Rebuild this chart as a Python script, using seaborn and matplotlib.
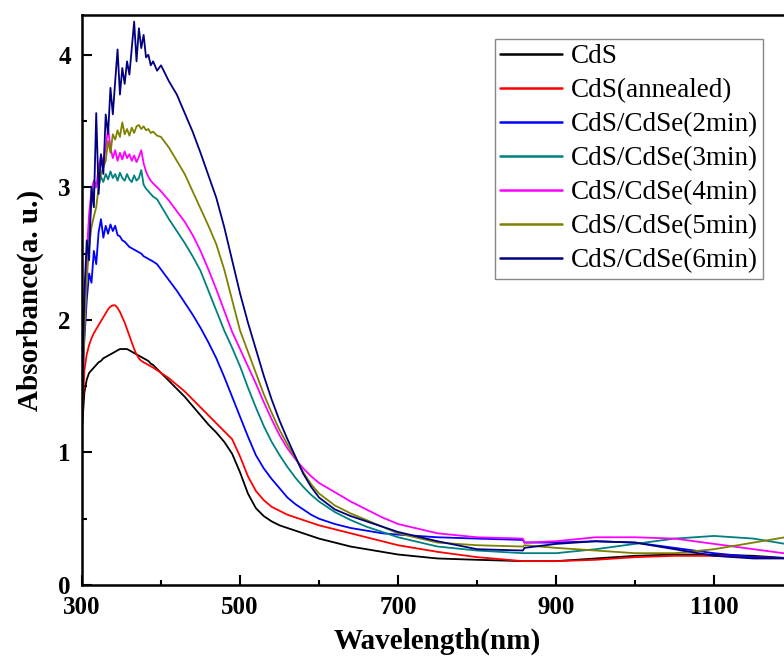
import matplotlib
matplotlib.use("Agg")
import matplotlib.pyplot as plt
from matplotlib.ticker import MultipleLocator
import seaborn as sns
import pandas as pd

# wavelength grid (nm), dense in the noisy UV region
wavelength = [300, 303, 306, 309, 312, 315, 318, 321, 324, 327, 330, 333, 336, 339, 342, 345,
              348, 351, 354, 357, 360, 363, 366, 369, 372, 375, 378, 381, 384, 387, 390, 395,
              400, 410, 420, 430, 440, 450, 460, 470, 480, 490, 500, 510, 520, 530, 540, 550,
              560, 570, 580, 590, 600, 620, 640, 660, 680, 700, 750, 800, 858, 860, 900, 950,
              1000, 1050, 1100, 1150, 1200]

cds = [1.18, 1.45, 1.55, 1.60, 1.62, 1.64, 1.66, 1.68, 1.69, 1.71, 1.72, 1.73, 1.74, 1.75, 1.76, 1.77,
       1.78, 1.78, 1.78, 1.78, 1.77, 1.76, 1.75, 1.74, 1.73, 1.72, 1.71, 1.70, 1.69, 1.67, 1.66, 1.63,
       1.60, 1.54, 1.48, 1.42, 1.35, 1.28, 1.21, 1.15, 1.08, 0.99, 0.85, 0.69, 0.58, 0.52, 0.48, 0.45,
       0.43, 0.41, 0.39, 0.37, 0.35, 0.32, 0.29, 0.27, 0.25, 0.23, 0.20, 0.19, 0.18, 0.18, 0.18, 0.20,
       0.22, 0.23, 0.23, 0.22, 0.20]

cds_annealed = [1.20, 1.62, 1.74, 1.81, 1.86, 1.90, 1.93, 1.96, 1.99, 2.02, 2.05, 2.08, 2.10, 2.11, 2.11, 2.09,
                2.06, 2.02, 1.98, 1.93, 1.88, 1.83, 1.78, 1.74, 1.71, 1.69, 1.68, 1.67, 1.66, 1.65, 1.64, 1.62,
                1.60, 1.56, 1.51, 1.46, 1.40, 1.34, 1.28, 1.22, 1.16, 1.10, 0.97, 0.82, 0.71, 0.64, 0.59, 0.56,
                0.53, 0.51, 0.49, 0.47, 0.45, 0.42, 0.39, 0.36, 0.33, 0.30, 0.25, 0.21, 0.18, 0.18, 0.18, 0.19,
                0.21, 0.22, 0.22, 0.21, 0.20]

cdse_2min = [1.40, 1.85, 2.15, 2.35, 2.28, 2.52, 2.42, 2.66, 2.76, 2.62, 2.71, 2.65, 2.72, 2.67, 2.71, 2.64,
             2.63, 2.60, 2.59, 2.57, 2.55, 2.54, 2.53, 2.52, 2.51, 2.50, 2.48, 2.47, 2.46, 2.45, 2.44, 2.42,
             2.38, 2.30, 2.22, 2.13, 2.04, 1.94, 1.83, 1.71, 1.57, 1.42, 1.27, 1.12, 0.98, 0.88, 0.80, 0.73,
             0.66, 0.61, 0.57, 0.53, 0.50, 0.46, 0.43, 0.41, 0.39, 0.38, 0.36, 0.35, 0.34, 0.32, 0.32, 0.33,
             0.32, 0.28, 0.24, 0.21, 0.20]

cdse_3min = [1.50, 2.00, 2.40, 2.70, 2.88, 2.98, 3.04, 3.02, 3.08, 3.04, 3.10, 3.06, 3.12, 3.07, 3.10, 3.05,
             3.11, 3.07, 3.05, 3.10, 3.06, 3.04, 3.09, 3.05, 3.07, 3.13, 3.02, 2.99, 2.97, 2.95, 2.93, 2.91,
             2.86, 2.76, 2.67, 2.58, 2.48, 2.37, 2.22, 2.07, 1.92, 1.79, 1.65, 1.49, 1.34, 1.20, 1.08, 0.98,
             0.89, 0.81, 0.74, 0.68, 0.63, 0.55, 0.49, 0.44, 0.40, 0.36, 0.29, 0.26, 0.24, 0.24, 0.24, 0.27,
             0.31, 0.35, 0.37, 0.35, 0.30]

cdse_4min = [1.50, 2.10, 2.50, 2.80, 2.98, 3.05, 3.00, 3.15, 3.24, 3.18, 3.30, 3.45, 3.30, 3.22, 3.28, 3.20,
             3.26, 3.21, 3.27, 3.22, 3.25, 3.20, 3.24, 3.19, 3.23, 3.28, 3.18, 3.12, 3.08, 3.05, 3.03, 3.00,
             2.97, 2.90, 2.82, 2.74, 2.64, 2.52, 2.38, 2.23, 2.07, 1.91, 1.78, 1.65, 1.52, 1.38, 1.25, 1.13,
             1.03, 0.95, 0.88, 0.82, 0.77, 0.70, 0.63, 0.57, 0.51, 0.46, 0.39, 0.36, 0.35, 0.32, 0.33, 0.36,
             0.36, 0.35, 0.31, 0.27, 0.23]

cdse_5min = [1.40, 1.90, 2.30, 2.55, 2.70, 2.78, 2.85, 3.00, 3.10, 3.15, 3.20, 3.35, 3.26, 3.40, 3.36, 3.43,
             3.38, 3.49, 3.40, 3.44, 3.39, 3.45, 3.41, 3.46, 3.47, 3.44, 3.46, 3.43, 3.44, 3.41, 3.42, 3.39,
             3.38, 3.30, 3.20, 3.10, 2.97, 2.84, 2.71, 2.57, 2.38, 2.15, 1.92, 1.76, 1.60, 1.44, 1.30, 1.17,
             1.06, 0.96, 0.85, 0.76, 0.69, 0.60, 0.54, 0.49, 0.44, 0.39, 0.32, 0.30, 0.29, 0.30, 0.28, 0.26,
             0.24, 0.24, 0.27, 0.32, 0.37]

cdse_6min = [1.40, 2.20, 2.60, 2.45, 3.00, 2.85, 3.56, 2.95, 3.25, 3.10, 3.55, 3.40, 3.75, 3.55, 3.80, 4.04,
             3.70, 3.90, 3.78, 3.95, 3.85, 4.05, 4.25, 3.95, 4.20, 4.05, 4.15, 3.98, 4.00, 3.92, 3.95, 3.88,
             3.92, 3.80, 3.70, 3.56, 3.42, 3.26, 3.09, 2.92, 2.70, 2.45, 2.20, 1.98, 1.78, 1.58, 1.40, 1.24,
             1.10, 0.97, 0.84, 0.74, 0.66, 0.57, 0.52, 0.48, 0.44, 0.40, 0.33, 0.27, 0.26, 0.28, 0.31, 0.33,
             0.32, 0.27, 0.22, 0.20, 0.20]

labels = ["CdS", "CdS(annealed)", "CdS/CdSe(2min)", "CdS/CdSe(3min)",
          "CdS/CdSe(4min)", "CdS/CdSe(5min)", "CdS/CdSe(6min)"]
colors = ["#000000", "#FF0000", "#0000FF", "#008080", "#FF00FF", "#808000", "#000080"]
series = [cds, cds_annealed, cdse_2min, cdse_3min, cdse_4min, cdse_5min, cdse_6min]

sns.set_style("ticks", {"axes.edgecolor": "black", "xtick.color": "black", "ytick.color": "black",
                        "xtick.direction": "in", "ytick.direction": "in",
                        "text.color": "black", "axes.labelcolor": "black"})
plt.rcParams["font.family"] = ["Liberation Serif", "DejaVu Serif"]

df = pd.concat([pd.DataFrame({"Wavelength": wavelength, "Absorbance": vals, "Sample": lab})
                for lab, vals in zip(labels, series)], ignore_index=True)

fig = plt.figure(figsize=(7.84, 6.57), dpi=100)
ax = fig.add_axes([0.1046, 0.1096, 0.907, 0.8676])
sns.lineplot(data=df, x="Wavelength", y="Absorbance", hue="Sample", hue_order=labels,
             palette=dict(zip(labels, colors)), estimator=None, sort=False,
             linewidth=1.3, ax=ax)

ax.set_xlim(300, 1200)
ax.set_ylim(0, 4.3)
ax.set_xticks([300, 500, 700, 900, 1100])
ax.set_yticks([0, 1, 2, 3, 4])
ax.xaxis.set_minor_locator(MultipleLocator(100))
ax.yaxis.set_minor_locator(MultipleLocator(0.5))
ax.tick_params(which="major", length=7, width=1.5, labelsize=18, pad=8)
ax.tick_params(which="minor", length=3.5, width=1.5)
for lbl in ax.get_xticklabels() + ax.get_yticklabels():
    lbl.set_fontweight("bold")
for sp in ax.spines.values():
    sp.set_linewidth(1.8)

ax.set_xlabel("Wavelength(nm)", fontsize=21, fontweight="bold", labelpad=6)
ax.set_ylabel("Absorbance(a. u.)", fontsize=21, fontweight="bold", labelpad=10)

handles, labs = ax.get_legend_handles_labels()
leg = ax.legend(handles, labs, loc="upper right", bbox_to_anchor=(0.9732, 0.9406),
                bbox_transform=fig.transFigure, borderaxespad=0, fontsize=19.5,
                frameon=True, fancybox=False, edgecolor="#888888", framealpha=1,
                handlelength=2.3, handletextpad=0.3, borderpad=0.2, labelspacing=0.33)
leg.get_frame().set_linewidth(1.0)
for h in leg.get_lines():
    h.set_linewidth(1.8)

fig.savefig("out.png", dpi=100)
